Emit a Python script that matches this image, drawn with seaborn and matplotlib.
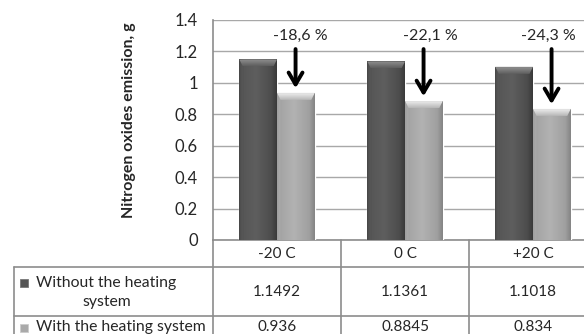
import numpy as np
import pandas as pd
import matplotlib
matplotlib.use("Agg")
import matplotlib.pyplot as plt
import seaborn as sns
from matplotlib.patches import Polygon, Rectangle
from matplotlib.transforms import blended_transform_factory

# ---- data -------------------------------------------------------------
categories = ["-20 C", "0 C", "+20 C"]
series_names = ["Without the heating system", "With the heating system"]
without_heating = [1.1492, 1.1361, 1.1018]
with_heating = [0.936, 0.8845, 0.834]
y_ticks = [0, 0.2, 0.4, 0.6, 0.8, 1.0, 1.2, 1.4]

df = pd.DataFrame({
    "Temperature": categories * 2,
    "Series": [series_names[0]] * 3 + [series_names[1]] * 3,
    "Emission": without_heating + with_heating,
})

# ---- style ------------------------------------------------------------
sns.set_style("white")
plt.rcParams["font.family"] = ["Lato", "DejaVu Sans"]

GRID = "#a8a8a8"
TABLE = "#8c8c8c"

fig = plt.figure(figsize=(5.84, 3.34), dpi=100)
W, H = 584, 334
ax = fig.add_axes([213 / W, (H - 240) / H, 384 / W, 220 / H])

sns.barplot(data=df, x="Temperature", y="Emission", hue="Series",
            palette=["#555555", "#aaaaaa"], width=0.59, gap=0,
            saturation=1, legend=False, ax=ax, zorder=3)

ax.set_xlim(-0.5, 2.5)
ax.set_ylim(0, 1.4)
ax.set_yticks(y_ticks)
ax.set_yticklabels([f"{v:g}" for v in y_ticks], fontsize=12)
ax.tick_params(axis="y", length=0, pad=11)
ax.set_xticks([])
ax.set_xlabel("")
ax.set_ylabel("Nitrogen oxides emission, g", fontsize=11.5, fontweight="bold")
ax.yaxis.set_label_coords(-0.2, 0.545)
ax.grid(axis="y", color=GRID, lw=1, zorder=0)
for side in ["left", "bottom", "top", "right"]:
    ax.spines[side].set_color(TABLE)
    ax.spines[side].set_linewidth(1.2)
ax.spines["top"].set_visible(False)


def shade(profile_pos, profile_cols, n=64, vertical=False):
    xs = np.linspace(0, 1, n)
    rgb = np.array([matplotlib.colors.to_rgb(c) for c in profile_cols])
    arr = np.stack([np.interp(xs, profile_pos, rgb[:, k]) for k in range(3)], axis=-1)
    return arr[:, np.newaxis, :] if vertical else arr[np.newaxis, :, :]


dark_body = shade([0, 0.12, 0.45, 0.85, 1], ["#3e3e3e", "#575757", "#5e5e5e", "#4d4d4d", "#3a3a3a"])
light_body = shade([0, 0.12, 0.45, 0.85, 1], ["#8e8e8e", "#a6a6a6", "#b2b2b2", "#a0a0a0", "#858585"])
# bevel caps: first row is the top edge
dark_cap = shade([0, 0.2, 1], ["#6e6e6e", "#8c8c8c", "#5e5e5e"], vertical=True)
light_cap = shade([0, 0.2, 1], ["#c4c4c4", "#e8e8e8", "#b6b6b6"], vertical=True)

dx = 3.5 / 128
dy = 7 / 157.1
for p in list(ax.patches):
    x0, w, h = p.get_x(), p.get_width(), p.get_height()
    if h <= 0:
        continue
    is_dark = matplotlib.colors.to_hex(p.get_facecolor()) == "#555555"
    img = ax.imshow(dark_body if is_dark else light_body, extent=[x0, x0 + w, 0, h],
                    aspect="auto", zorder=3.1, interpolation="bilinear")
    img.set_clip_path(p)
    cap = Polygon([(x0, h), (x0 + w, h), (x0 + w - dx, h - dy), (x0 + dx, h - dy)],
                  closed=True, facecolor="none", edgecolor="none", zorder=3.2)
    ax.add_patch(cap)
    cimg = ax.imshow(dark_cap if is_dark else light_cap, extent=[x0, x0 + w, h - dy, h],
                     aspect="auto", zorder=3.2, interpolation="bilinear", origin="upper")
    cimg.set_clip_path(cap)
    side_col = "#6a6a6a" if is_dark else "#c8c8c8"
    ax.add_patch(Polygon([(x0, h), (x0 + dx, h - dy), (x0 + dx, 0), (x0, 0)],
                         closed=True, facecolor=side_col, edgecolor="none", alpha=0.3, zorder=3.2))
ax.set_xlim(-0.5, 2.5)
ax.set_ylim(0, 1.4)

# reduction arrows and percentages
label_dx = [0.18, 0.20, 0.12]
for i, (a, b) in enumerate(zip(without_heating, with_heating)):
    xb = i + 0.145
    ax.annotate("", xy=(xb, b + 0.03), xytext=(xb, 1.215),
                arrowprops=dict(arrowstyle="->,head_length=0.85,head_width=0.5",
                                lw=2.8, color="black", shrinkA=0, shrinkB=0),
                zorder=5)
    pct = (b - a) / a * 100
    ax.text(i + label_dx[i], 1.30, f"{pct:.1f} %".replace(".", ","),
            ha="center", va="center", fontsize=11.5, zorder=5)

# ---- data table below the axes ----------------------------------------
ov = fig.add_axes([0, 0, 1, 1], facecolor="none")
ov.set_xlim(0, W)
ov.set_ylim(H, 0)
ov.axis("off")
bt = blended_transform_factory(ax.transData, ov.transData)

ov.plot([213, 213], [240, H], color=TABLE, lw=1.2)
ov.plot([14, 14], [267, H], color=TABLE, lw=1.2)
for yl in (267, 316):
    ov.plot([14, W], [yl, yl], color=TABLE, lw=1.2)
for xb in (0.5, 1.5):
    ov.plot([xb, xb], [240, H], color=TABLE, lw=1.2, transform=bt)

for i, cat in enumerate(categories):
    ov.text(i, 253.5, cat, ha="center", va="center", fontsize=11, transform=bt)
    ov.text(i, 291.5, f"{without_heating[i]:g}", ha="center", va="center", fontsize=11, transform=bt)
    ov.text(i, 327, f"{with_heating[i]:g}", ha="center", va="center", fontsize=11, transform=bt)

ov.add_patch(Rectangle((20, 279), 8, 8, facecolor="#555555", edgecolor="#777777", lw=0.6))
ov.add_patch(Rectangle((20, 324), 8, 8, facecolor="#aaaaaa", edgecolor="#cccccc", lw=0.6))
ov.text(36, 283, "Without the heating", ha="left", va="center", fontsize=11.3)
ov.text(107, 302, "system", ha="center", va="center", fontsize=11.3)
ov.text(36, 327, "With the heating system", ha="left", va="center", fontsize=11.3)

fig.savefig("out.png", dpi=100)
